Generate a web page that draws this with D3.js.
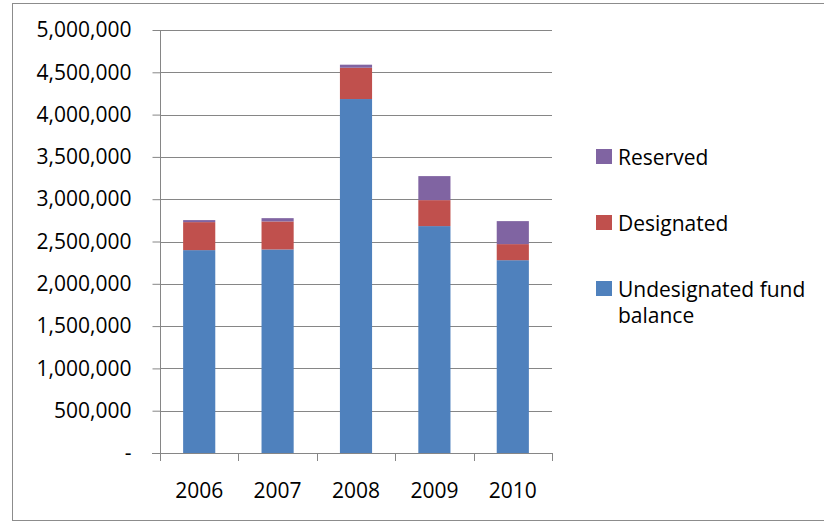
<!DOCTYPE html>
<html>
<head>
<meta charset="utf-8">
<script src="https://cdn.jsdelivr.net/npm/d3@7"></script>
<style>
  html, body { margin: 0; padding: 0; background: #fff; }
  svg { display: block; font-family: "Open Sans", sans-serif; }
</style>
</head>
<body>
<svg id="chart" width="824" height="522"></svg>
<script>
// Fund balance by year, stacked by component
const years = ["2006", "2007", "2008", "2009", "2010"];
const undesignated = [2398000, 2406000, 4184000, 2682000, 2279000];
const designated   = [331000, 331000, 370000, 307000, 190000];
const reserved     = [24000, 39000, 36000, 284000, 272000];
const seriesNames  = ["Undesignated fund balance", "Designated", "Reserved"];
const seriesKeys   = ["undesignated", "designated", "reserved"];
const seriesColors = ["#4F81BD", "#C0504D", "#8064A2"];
const yTicks = [0, 500000, 1000000, 1500000, 2000000, 2500000, 3000000, 3500000, 4000000, 4500000, 5000000];

const rows = years.map((y, i) => ({
  year: y,
  undesignated: undesignated[i],
  designated: designated[i],
  reserved: reserved[i]
}));

const svg = d3.select("#chart");
const plot = { left: 160, right: 552, top: 30, bottom: 453 };

// chart frame
svg.append("rect")
  .attr("x", 12.5).attr("y", 3.5)
  .attr("width", 830).attr("height", 517)
  .attr("fill", "none").attr("stroke", "#8c8c8c").attr("stroke-width", 1);

const x = d3.scaleBand().domain(years).range([plot.left, plot.right]).paddingInner(0.59).paddingOuter(0.295);
const y = d3.scaleLinear().domain([0, 5000000]).range([plot.bottom, plot.top]);

// gridlines
svg.append("g").selectAll("line").data(yTicks.filter(d => d > 0)).join("line")
  .attr("x1", plot.left).attr("x2", plot.right)
  .attr("y1", d => Math.round(y(d)) + 0.5).attr("y2", d => Math.round(y(d)) + 0.5)
  .attr("stroke", "#868686").attr("stroke-width", 1);

// stacked bars
const stack = d3.stack().keys(seriesKeys)(rows);
svg.append("g").selectAll("g").data(stack).join("g")
  .attr("fill", (d, i) => seriesColors[i])
  .selectAll("rect").data(d => d).join("rect")
  .attr("x", d => x(d.data.year))
  .attr("width", x.bandwidth())
  .attr("y", d => y(d[1]))
  .attr("height", d => y(d[0]) - y(d[1]));

// y axis
const yAxis = d3.axisLeft(y).tickValues(yTicks).tickSize(8).tickPadding(21)
  .tickFormat(d => d === 0 ? "-" : d3.format(",")(d));
const gy = svg.append("g").attr("transform", `translate(${plot.left + 0.5},0)`).call(yAxis);
gy.select(".domain").attr("stroke", "#868686").attr("d", `M0,${plot.top}V${plot.bottom}`);
gy.selectAll(".tick line").attr("stroke", "#868686");
gy.selectAll(".tick text").attr("font-size", 21).attr("fill", "#000")
  .attr("font-family", "Open Sans, sans-serif");

// x axis: ticks between categories
const bounds = d3.range(years.length + 1).map(i => plot.left + i * (plot.right - plot.left) / years.length);
const gx = svg.append("g");
gx.append("line").attr("x1", plot.left - 8).attr("x2", plot.right)
  .attr("y1", plot.bottom + 0.5).attr("y2", plot.bottom + 0.5).attr("stroke", "#868686");
gx.selectAll("line.tk").data(bounds).join("line").attr("class", "tk")
  .attr("x1", d => Math.round(d) + 0.5).attr("x2", d => Math.round(d) + 0.5)
  .attr("y1", plot.bottom).attr("y2", plot.bottom + 8).attr("stroke", "#868686");
gx.selectAll("text").data(years).join("text")
  .attr("x", d => x(d) + x.bandwidth() / 2).attr("y", 498)
  .attr("text-anchor", "middle").attr("font-size", 21).attr("fill", "#000")
  .text(d => d);

// legend (top to bottom: Reserved, Designated, Undesignated)
const legendOrder = [2, 1, 0];
const lg = svg.append("g");
legendOrder.forEach((si, k) => {
  const top = 149 + k * 66;
  lg.append("rect").attr("x", 596).attr("y", top).attr("width", 16).attr("height", 15)
    .attr("fill", seriesColors[si]);
  const words = si === 0 ? ["Undesignated fund", "balance"] : [seriesNames[si]];
  words.forEach((w, j) => {
    lg.append("text").attr("x", 618).attr("y", top + 16 + j * 26)
      .attr("font-size", 21).attr("fill", "#000").text(w);
  });
});
</script>
</body>
</html>
